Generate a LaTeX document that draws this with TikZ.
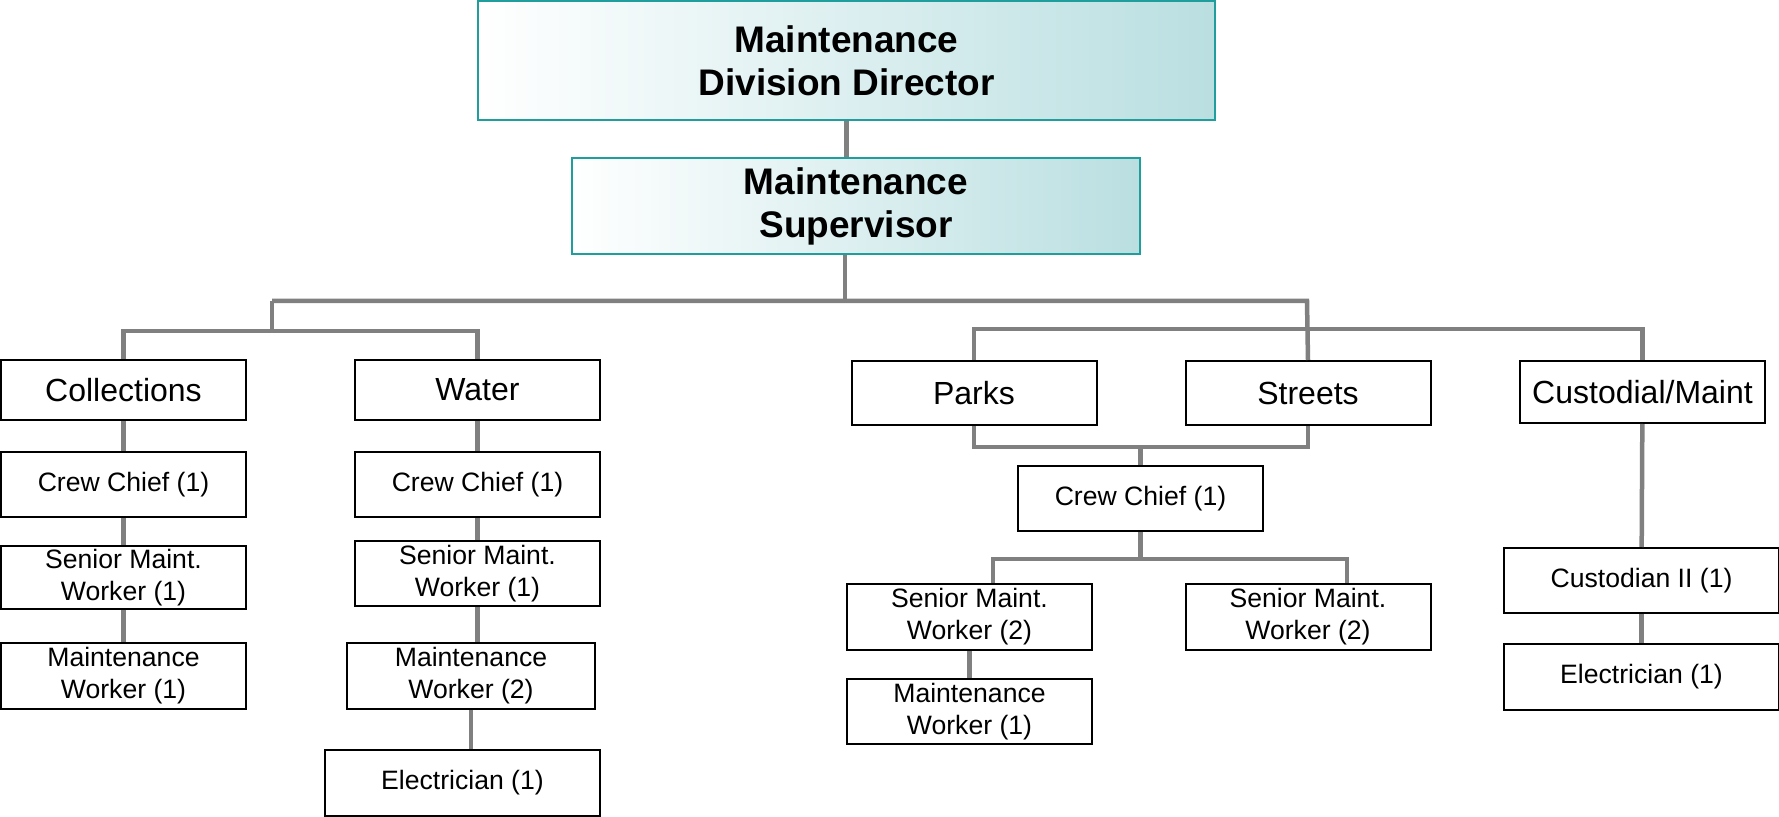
\documentclass[tikz,border=0pt]{standalone}
\usepackage{fontspec}
\setmainfont{Liberation Sans}
\usepackage{tikz}
\usetikzlibrary{positioning,calc}

\definecolor{hdline}{RGB}{32,158,158}
\definecolor{hdteal}{RGB}{186,223,225}
\definecolor{lnk}{RGB}{128,128,128}

\begin{document}
\begin{tikzpicture}[x=0.5pt, y=-0.5pt,
  box/.style={draw, line width=1pt, minimum width=122.5pt, minimum height=32.5pt,
    inner sep=0pt, align=center, font=\fontsize{13.3}{16}\selectfont},
  unit/.style={box, minimum height=30pt, font=\fontsize{16}{19}\selectfont},
  head/.style={draw=hdline, line width=1pt, left color=white, right color=hdteal,
    inner sep=0pt, align=center, font=\bfseries\fontsize{18.5}{21.5}\selectfont},
  conn/.style={draw=lnk, line width=2.25pt}]
\useasboundingbox (0,0) rectangle (1779,817);
% top of the chart
\node[head, minimum width=368.5pt, minimum height=59.5pt] (dir) at (846.5,60.5) {Maintenance\\Division Director};
\node[head, minimum width=284pt, minimum height=48pt] (sup) at (856,206) {Maintenance\\Supervisor};

% units
\node[unit] (coll) at (123.5,390) {Collections};
\node[unit] (water) at (477.5,390) {Water};
\node[unit, minimum height=32pt] (parks) at (974,393) {Parks};
\node[unit, minimum height=32pt] (strt) at (1308,393) {Streets};
\node[unit, minimum height=31pt] (cust) at (1642.5,392) {Custodial/Maint};

% collections column
\node[box] (crewc) at (123.5,484.5) {Crew Chief (1)};
\node[box, minimum height=31.5pt] (senc) at (123.5,577.5) {Senior Maint.\\Worker (1)};
\node[box, minimum height=33pt] (maintc) at (123.5,676) {Maintenance\\Worker (1)};

% water column
\node[box] (creww) at (477.5,484.5) {Crew Chief (1)};
\node[box] (senw) at (477.5,573.5) {Senior Maint.\\Worker (1)};
\node[box, minimum width=124pt, minimum height=33pt] (maintw) at (471,676) {Maintenance\\Worker (2)};
\node[box, minimum width=137.5pt, minimum height=33pt] (elecw) at (462.5,783) {Electrician (1)};

% parks and streets
\node[box] (crewp) at (1140.5,498.5) {Crew Chief (1)};
\node[box, minimum height=33pt] (senp1) at (969.5,617) {Senior Maint.\\Worker (2)};
\node[box, minimum height=33pt] (senp2) at (1308,617) {Senior Maint.\\Worker (2)};
\node[box] (maintp) at (969.5,711.5) {Maintenance\\Worker (1)};

% custodial
\node[box, minimum width=137.5pt] (custii) at (1641.5,580.5) {Custodian II (1)};
\node[box, minimum width=137.5pt, minimum height=33pt] (elecc) at (1641.5,677) {Electrician (1)};

% connectors
\draw[conn] (dir.south) -- (dir.south |- sup.north);
\coordinate (jl) at (272,301);
\coordinate (jr) at (1307,301);
\draw[conn] ($(sup.south)+(-11,0)$) |- (jl);
\draw[conn] (jl) -- (jr) -- (strt.north);
\draw[conn] (jl) -- ++(0,30) coordinate (jc);
\draw[conn] (coll.north) |- (jc) -| (water.north);
\coordinate (jp) at (1307,329);
\draw[conn] (parks.north) |- (jp) -| (cust.north);

\draw[conn] (coll) -- (crewc);
\draw[conn] (crewc) -- (senc);
\draw[conn] (senc) -- (maintc);
\draw[conn] (water) -- (creww);
\draw[conn] (creww) -- (senw);
\draw[conn] (senw.south) -- (senw.south |- maintw.north);
\draw[conn] (maintw.south) -- (maintw.south |- elecw.north);

\draw[conn] (parks.south) -- ++(0,21) -| (strt.south);
\draw[conn] (crewp.north) -- ++(0,-20);
\draw[conn] (crewp.south) -- ++(0,27) coordinate (js);
\draw[conn] ($(senp1.north)+(23.5,0)$) |- (js) -| ($(senp2.north)+(39,0)$);
\draw[conn] (senp1) -- (maintp);

\draw[conn] (cust) -- (custii);
\draw[conn] (custii) -- (elecc);
\end{tikzpicture}
\end{document}
